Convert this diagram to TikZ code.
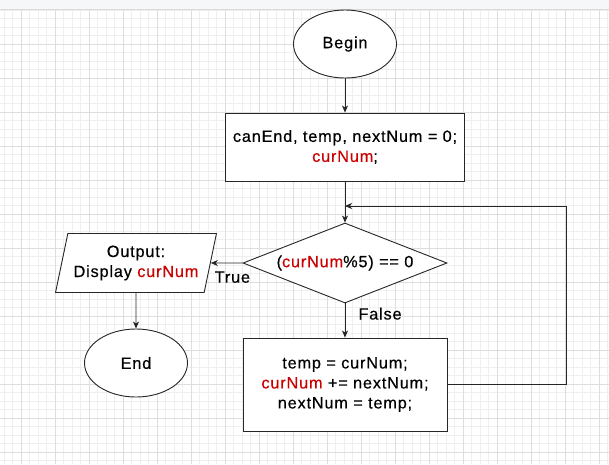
\documentclass[tikz,border=0pt]{standalone}
\usepackage{fontspec}
\setmainfont{Liberation Sans}[LetterSpace=5, FakeBold=0.4]
\usetikzlibrary{shapes.geometric,arrows.meta}
\definecolor{gridminor}{HTML}{EFEFEF}
\definecolor{gridmajor}{HTML}{DEDEDE}
\definecolor{topbar}{HTML}{F5F7F9}
\definecolor{stroke}{HTML}{262626}
\definecolor{varred}{HTML}{CC0000}
\newcommand{\curvar}[1]{\textcolor{varred}{#1}}
\tikzset{
  every node/.style={font=\fontsize{16.3}{20}\selectfont},
  startstop/.style={ellipse, draw=stroke, fill=white, line width=0.9pt, minimum width=103pt, minimum height=68pt},
  process/.style={rectangle, draw=stroke, fill=white, line width=0.9pt, align=center},
  decision/.style={diamond, draw=stroke, fill=white, line width=0.9pt, aspect=2.5, inner sep=0pt, minimum width=204pt, minimum height=80pt},
  io/.style={trapezium, trapezium left angle=74, trapezium right angle=106, trapezium stretches=true, draw=stroke, fill=white, line width=0.9pt, align=center, minimum width=161pt, minimum height=59pt},
  flow/.style={-{Stealth[length=7pt,width=6pt,inset=2pt]}, draw=stroke, line width=0.9pt},
  branch/.style={font=\fontsize{16.3}{20}\selectfont, inner sep=0pt}
}

\begin{document}
\begin{tikzpicture}[x=1pt, y=-1pt, node distance=100pt]
	\useasboundingbox (0,0) rectangle (609,464);
	% background grid
	\fill[white] (0,0) rectangle (609,464);
	\fill[topbar] (0,0) rectangle (609,9.5);
	\draw[gray!30] (0,9.5) -- (609,9.5);
	\foreach \k in {0,...,71}
		\draw[gridminor, line width=0.8pt] ({4+8.5*\k},10) -- ({4+8.5*\k},464);
	\foreach \k in {0,...,53}
		\draw[gridminor, line width=0.8pt] (0,{10+8.5*\k}) -- (609,{10+8.5*\k});
	\foreach \k in {0,...,17}
		\draw[gridmajor, line width=0.8pt] ({21+34*\k},10) -- ({21+34*\k},464);
	\foreach \k in {0,...,12}
		\draw[gridmajor, line width=0.8pt] (0,{44+34*\k}) -- (609,{44+34*\k});

	% flowchart
	\node(begin)[startstop] at (345,44){Begin};
	\node(init)[process, below of=begin, node distance=103pt, minimum width=239pt, minimum height=68pt]{canEnd, temp, nextNum = 0;\\ \curvar{curNum};};
	\node(check)[decision, below of=init, node distance=116pt]{(\curvar{curNum}\%5) == 0};
	\node(swap)[process, below of=check, node distance=121.5pt, minimum width=204pt, minimum height=93pt]{temp = curNum;\\ \curvar{curNum} += nextNum;\\ nextNum = temp;};
	\node(out)[io, left of=check, node distance=209pt]{Output:\\ Display \curvar{curNum}};
	\node(stop)[startstop, below of=out, node distance=100pt]{End};
	\coordinate(join) at (345,206);
	\coordinate(back) at (566,206);

	\draw[flow](begin) to (init);
	\draw[flow](init) to (check);
	\draw[flow](check) to node[branch, pos=0.32, below=8pt]{True}(out);
	\draw[flow](check) to node[branch, pos=0.3, right=13pt]{False}(swap);
	\draw[flow](out) to (stop);
	\draw[flow](swap.east) -| (back) -- (join);
\end{tikzpicture}
\end{document}
